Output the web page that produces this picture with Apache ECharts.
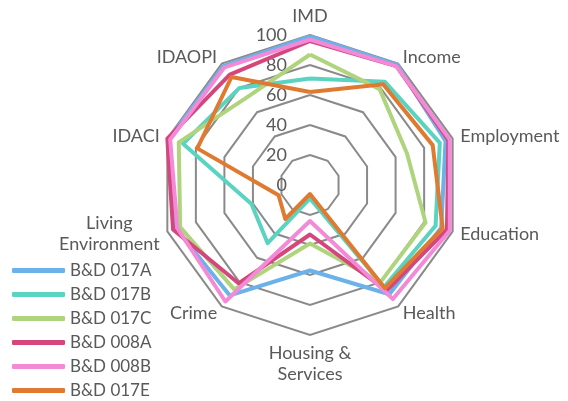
<!DOCTYPE html>
<html>
<head>
<meta charset="utf-8">
<script src="https://cdn.jsdelivr.net/npm/echarts@6/dist/echarts.min.js"></script>
<style>
  html, body { margin: 0; padding: 0; background: #fff; }
  #chart { width: 568px; height: 401px; }
</style>
</head>
<body>
<div id="chart"></div>
<script>
// axes, clockwise from the top
const categories = [
  "IMD", "Income", "Employment", "Education", "Health",
  "Housing &\nServices", "Crime", "Living\nEnvironment", "IDACI", "IDAOPI",
];

const seriesNames = ["B&D 017A", "B&D 017B", "B&D 017C", "B&D 008A", "B&D 008B", "B&D 017E"];

const b017A = [99, 99, 95, 92, 90, 57, 91, 94, 99, 98];
const b017B = [71, 85, 91, 88, 84, 9, 48, 41, 89, 80];
const b017C = [87, 79, 68, 81, 80, 39, 86, 91, 92, 72];
const b008A = [96, 98, 97, 96, 87, 33, 81, 96, 100, 91];
const b008B = [97, 98, 98, 98, 94, 24, 96, 93, 98, 97];
const b017E = [62, 83, 86, 93, 85, 6, 28, 22, 79, 89];

const seriesValues = [b017A, b017B, b017C, b008A, b008B, b017E];
const colors = ["#6cb2ea", "#5ad4c0", "#afd47d", "#d5467d", "#f28ad8", "#df7a30"];

const textColor = "#595959";
const font = "Lato";

// echarts lays radar axes out counter-clockwise, so walk the list backwards after the first
const order = [0, 9, 8, 7, 6, 5, 4, 3, 2, 1];

const chart = echarts.init(document.getElementById("chart"));
chart.setOption({
  animation: false,
  legend: {
    orient: "vertical",
    left: 12,
    top: 262,
    padding: 0,
    height: 139,
    itemWidth: 53,
    itemHeight: 5,
    itemGap: 7,
    icon: "roundRect",
    data: seriesNames,
    textStyle: { fontSize: 17, color: textColor, fontFamily: font, lineHeight: 17 },
  },
  radar: {
    center: [310, 185],
    radius: 150,
    shape: "polygon",
    splitNumber: 5,
    indicator: order.map((i, k) => {
      const ind = { name: categories[i], min: 0, max: 100 };
      if (k === 0) ind.axisLabel = { show: true };
      return ind;
    }),
    axisName: {
      color: textColor,
      fontSize: 18,
      fontFamily: font,
      formatter: (v) => v.split("\n").map((s) => "{a|" + s + "}").join("\n"),
      rich: {
        a: { align: "center", fontSize: 18, fontFamily: font, color: textColor, lineHeight: 21 },
      },
    },
    nameGap: 8,
    axisLine: { show: false },
    axisTick: { show: false },
    axisLabel: { show: false, color: textColor, fontSize: 18, fontFamily: font, margin: 23 },
    splitArea: { show: false },
    splitLine: { lineStyle: { color: "#8a8a8a", width: 2 } },
  },
  series: seriesValues.map((vals, s) => ({
    type: "radar",
    name: seriesNames[s],
    symbol: "none",
    color: colors[s],
    lineStyle: { width: 4, color: colors[s] },
    itemStyle: { color: colors[s] },
    data: [{ name: seriesNames[s], value: order.map((i) => vals[i]) }],
  })),
});
</script>
</body>
</html>
